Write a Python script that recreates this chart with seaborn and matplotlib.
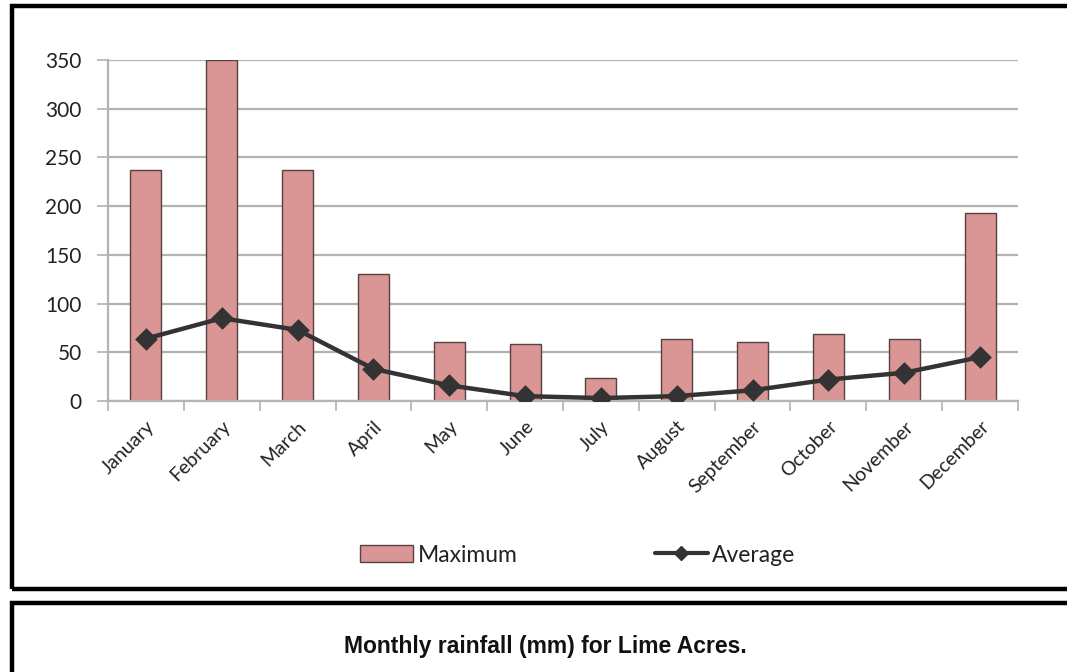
import matplotlib
matplotlib.use("Agg")
import matplotlib.pyplot as plt
from matplotlib.patches import Rectangle, Patch
from matplotlib.lines import Line2D
import seaborn as sns
import pandas as pd

months = ["January", "February", "March", "April", "May", "June", "July",
          "August", "September", "October", "November", "December"]
maximum = [237, 350, 237, 130, 61, 58, 24, 64, 61, 69, 64, 193]
average = [64, 85, 73, 33, 16, 5, 3, 5, 11, 22, 29, 45]
y_ticks = [0, 50, 100, 150, 200, 250, 300, 350]
title = "Monthly rainfall (mm) for Lime Acres."

df = pd.DataFrame({"month": months, "Maximum": maximum, "Average": average})

sns.set_theme(style="white")
plt.rcParams["font.family"] = ["Lato", "DejaVu Sans"]

W, H = 1067, 672
fig = plt.figure(figsize=(W / 100, H / 100), dpi=100)
fig.patch.set_facecolor("white")

ax = fig.add_axes([108 / W, 1 - 401 / H, (1018 - 108) / W, (401 - 60) / H])

bar_color = "#d99694"
line_color = "#333333"
grid_color = "#b3b3b3"
text_color = "#222222"

sns.barplot(data=df, x="month", y="Maximum", color=bar_color, width=0.41,
            edgecolor="#5a4040", linewidth=1.0, saturation=1, ax=ax, zorder=2)
sns.pointplot(data=df, x="month", y="Average", color=line_color, marker="D",
              markersize=9, linewidth=3.2, ax=ax, zorder=4)

ax.set_ylim(0, 350)
ax.set_xlim(-0.5, 11.5)
ax.set_yticks(y_ticks)
ax.set_xlabel("")
ax.set_ylabel("")

# Horizontal gridlines
ax.yaxis.grid(True, color=grid_color, linewidth=1.6, zorder=0)
ax.xaxis.grid(False)
ax.set_axisbelow(True)

for side in ["top", "right"]:
    ax.spines[side].set_visible(False)
for side in ["left", "bottom"]:
    ax.spines[side].set_color(grid_color)
    ax.spines[side].set_linewidth(1.6)

# Category separators as tick marks below the axis
ax.set_xticks([i - 0.5 for i in range(13)], minor=True)
ax.tick_params(axis="x", which="minor", length=7, width=1.2, color=grid_color,
               direction="out", bottom=True)
ax.tick_params(axis="x", which="major", length=0, pad=12, labelsize=14,
               labelcolor=text_color)
ax.tick_params(axis="y", which="major", length=8, width=1.2, color=grid_color,
               direction="out", left=True, labelsize=15, labelcolor=text_color,
               pad=11)
for lbl in ax.get_xticklabels():
    lbl.set_rotation(45)
    lbl.set_ha("right")
    lbl.set_rotation_mode("anchor")

# Legend
handles = [
    Patch(facecolor=bar_color, edgecolor="#5a4040", linewidth=1.0, label="Maximum"),
    Line2D([], [], color=line_color, linewidth=3.0, marker="D", markersize=7,
           label="Average"),
]
fig.legend(handles=handles, loc="center", bbox_to_anchor=(578 / W, 1 - 555 / H),
           ncol=2, frameon=False, fontsize=16.5, handlelength=2.3, handleheight=0.8,
           handletextpad=0.2, columnspacing=6.0, labelcolor=text_color)

# Chart frame and caption box
fig.patches.append(Rectangle((12 / W, 1 - 589 / H), 1.2, (589 - 6) / H,
                             transform=fig.transFigure, fill=False,
                             edgecolor="black", linewidth=3.2, zorder=10))
fig.patches.append(Rectangle((12 / W, -0.1), 1.2, 0.1 + (H - 603) / H,
                             transform=fig.transFigure, fill=False,
                             edgecolor="black", linewidth=3.2, zorder=10))
fig.text(545 / W, 1 - 646 / H, title, ha="center", va="center",
         fontsize=16.5, fontweight="bold", family=["Liberation Sans", "DejaVu Sans"],
         color="#111111")

fig.savefig("out.png", dpi=100)
